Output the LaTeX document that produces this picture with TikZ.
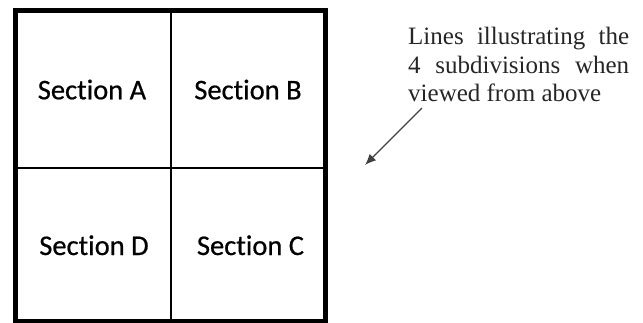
\documentclass[tikz,border=0pt]{standalone}
\usepackage{fontspec}
\setmainfont{Liberation Serif}
\newfontfamily\calib[RawFeature={-liga}, FakeBold=0.6]{Carlito}
\usetikzlibrary{arrows.meta}
\tikzset{
  outerbox/.style={draw=black, line width=5pt},
  divider/.style={draw=black, line width=2pt},
  seclabel/.style={font={\calib\fontsize{28.5}{31}\selectfont}, anchor=base, inner sep=0pt, text=black},
  notetext/.style={font={\fontsize{25}{28.5}\selectfont}, anchor=north west, inner sep=0pt, align=left, text=black!85},
  pointer/.style={draw=black!75, line width=1.3pt, -{Latex[length=11pt,width=9pt]}}
}
\begin{document}
\begin{tikzpicture}[x=1pt,y=-1pt]
\useasboundingbox (0,0) rectangle (643,322);
% outer box and dividers
\coordinate (tl) at (15.5,10.7);
\coordinate (br) at (325,321.5);
\coordinate (vt) at (171,10.7);
\coordinate (vb) at (171,321.5);
\coordinate (hl) at (15.5,168);
\coordinate (hr) at (325,168);
\draw[divider] (vt) -- (vb);
\draw[divider] (hl) -- (hr);
\draw[outerbox] (tl) rectangle (br);
% section labels
\node[seclabel] (secA) at (92,99.3) {Section A};
\node[seclabel] (secB) at (248,99.3) {Section B};
\node[seclabel] (secD) at (94,255) {Section D};
\node[seclabel] (secC) at (250.5,255) {Section C};
% note text
\node[notetext] (note) at (408,27) {\makebox[221pt][s]{Lines illustrating the}\\\makebox[221pt][s]{4 subdivisions when}\\viewed from above};
% arrow
\coordinate (arrS) at (422,108);
\coordinate (arrE) at (365,165);
\draw[pointer] (arrS) -- (arrE);
\end{tikzpicture}
\end{document}
